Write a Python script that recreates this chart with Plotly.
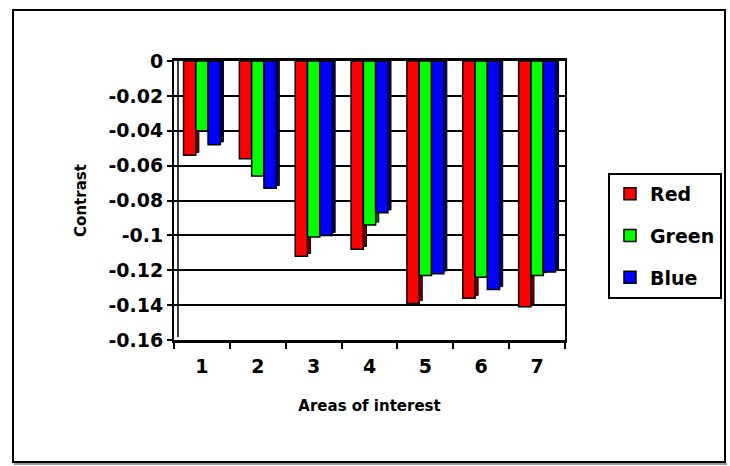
import plotly.graph_objects as go

# Areas of interest and contrast per colour channel
areas = ["1", "2", "3", "4", "5", "6", "7"]
red_vals = [-0.054, -0.056, -0.112, -0.108, -0.139, -0.136, -0.141]
green_vals = [-0.040, -0.066, -0.101, -0.094, -0.123, -0.124, -0.123]
blue_vals = [-0.048, -0.073, -0.100, -0.087, -0.122, -0.131, -0.121]

y_tickvals = [0, -0.02, -0.04, -0.06, -0.08, -0.10, -0.12, -0.14, -0.16]
y_ticktext = ["0", "-0.02", "-0.04", "-0.06", "-0.08", "-0.1", "-0.12", "-0.14", "-0.16"]

series = [
    ("Red", red_vals, "#FF0000", "#7A0000"),
    ("Green", green_vals, "#00FF00", "#007A00"),
    ("Blue", blue_vals, "#0000FF", "#00007A"),
]

W, H = 730, 466
PL, PR, PT, PB = 174, 565, 61, 340  # plot area in pixels
FONT = "DejaVu Sans, Liberation Sans, Arial, sans-serif"

bar_w = 0.22
depth_x = 0.055     # side face shift (category units)
depth_y = 0.0016    # side face lift (value units)

fig = go.Figure()

# side faces drawn first, slightly shifted up and right
for i, (name, vals, col, dark) in enumerate(series):
    off = -0.33 + i * bar_w
    fig.add_trace(go.Bar(
        x=areas, y=[v + depth_y for v in vals], base=0,
        width=bar_w, offset=off + depth_x,
        marker=dict(color=dark, line=dict(color="black", width=1)),
        showlegend=False, hoverinfo="skip",
    ))

# front faces
for i, (name, vals, col, dark) in enumerate(series):
    off = -0.33 + i * bar_w
    fig.add_trace(go.Bar(
        x=areas, y=vals, name=name,
        width=bar_w, offset=off,
        marker=dict(color=col, line=dict(color="black", width=1.5)),
        legendgroup=name,
    ))

def px_x(p):
    return (p - PL) / (PR - PL)

def px_y(p):
    return (PB - p) / (PB - PT)

# outer chart frame with a soft grey lower edge
fig.add_shape(type="line", xref="paper", yref="paper",
              x0=px_x(14), x1=px_x(727), y0=px_y(464), y1=px_y(464),
              line=dict(color="#9a9a9a", width=2), layer="below")
fig.add_shape(type="rect", xref="paper", yref="paper",
              x0=px_x(13), x1=px_x(725), y0=px_y(462), y1=px_y(10),
              line=dict(color="black", width=2), fillcolor="rgba(0,0,0,0)",
              layer="below")
# side wall edge of the value axis
fig.add_shape(type="line", xref="paper", yref="paper",
              x0=px_x(178), x1=px_x(178), y0=px_y(337), y1=px_y(61),
              line=dict(color="black", width=1.5))

fig.update_layout(
    width=W, height=H,
    margin=dict(l=PL, r=W - PR, t=PT, b=H - PB, pad=0, autoexpand=False),
    paper_bgcolor="white", plot_bgcolor="white",
    barmode="overlay",
    font=dict(family=FONT, color="black"),
    showlegend=True,
    legend=dict(
        x=px_x(608), y=px_y(173), xanchor="left", yanchor="top",
        bgcolor="white", bordercolor="black", borderwidth=2,
        font=dict(family=FONT, size=19, color="black", weight="bold"),
        tracegroupgap=14, itemwidth=30,
    ),
    xaxis=dict(
        type="category", categoryorder="array", categoryarray=areas,
        tickson="boundaries", ticks="outside", ticklen=6, tickwidth=1.5,
        tickcolor="black",
        showline=True, linecolor="black", linewidth=3, mirror=True,
        showgrid=False, ticklabelstandoff=7,
        tickfont=dict(family=FONT, size=19, color="black", weight="bold"),
        title=dict(text="Areas of interest", standoff=25,
                   font=dict(family=FONT, size=15, color="black", weight="bold")),
    ),
    yaxis=dict(
        range=[-0.16, 0], tickvals=y_tickvals, ticktext=y_ticktext,
        ticks="outside", ticklen=5, tickwidth=1.5, tickcolor="black",
        showline=True, linecolor="black", linewidth=2, mirror=True,
        showgrid=True, gridcolor="black", gridwidth=1.5,
        zeroline=False,
        tickfont=dict(family=FONT, size=19, color="black", weight="bold"),
        title=dict(text="Contrast", standoff=18,
                   font=dict(family=FONT, size=15, color="black", weight="bold")),
    ),
)

fig.write_html("out.html")
